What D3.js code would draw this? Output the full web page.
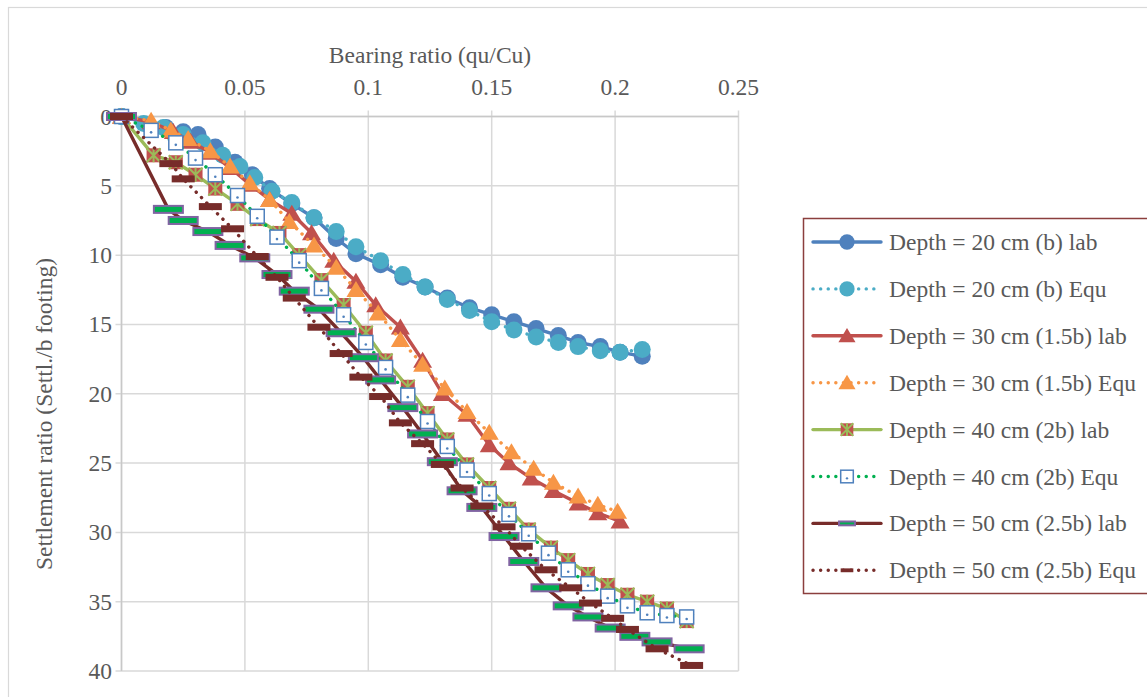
<!DOCTYPE html>
<html>
<head>
<meta charset="utf-8">
<script src="https://cdn.jsdelivr.net/npm/d3@7"></script>
<style>
  html, body { margin: 0; padding: 0; background: #fff; }
  svg { display: block; }
  text { font-family: "Liberation Serif", "Times New Roman", serif; fill: #595959; }
</style>
</head>
<body>
<svg id="chart" width="1147" height="697"></svg>
<script>
// Bearing ratio (qu/Cu) vs settlement ratio for footing depths, lab vs equation
const xTickValues = [0, 0.05, 0.1, 0.15, 0.2, 0.25];
const yTickValues = [0, 5, 10, 15, 20, 25, 30, 35, 40];

const depth20Lab = [[0,0],[0.018,0.8],[0.025,1.1],[0.031,1.3],[0.038,2.2],[0.046,3.3],[0.053,4.2],[0.060,5.2],[0.069,6.3],[0.078,7.3],[0.087,8.8],[0.095,9.9],[0.105,10.7],[0.114,11.6],[0.123,12.3],[0.132,13.1],[0.141,13.8],[0.150,14.3],[0.159,14.8],[0.168,15.3],[0.177,15.8],[0.185,16.3],[0.194,16.6],[0.202,17.0],[0.211,17.3]];
const depth20Equ = [[0,0],[0.009,0.5],[0.017,0.8],[0.025,1.3],[0.033,1.9],[0.041,2.8],[0.048,3.6],[0.054,4.4],[0.061,5.4],[0.069,6.2],[0.078,7.3],[0.087,8.3],[0.095,9.4],[0.105,10.4],[0.114,11.4],[0.123,12.3],[0.132,13.2],[0.141,14.0],[0.150,14.8],[0.159,15.4],[0.168,15.9],[0.177,16.3],[0.185,16.6],[0.194,16.9],[0.202,17.0],[0.211,16.8]];
const depth30Lab = [[0,0],[0.012,0.4],[0.021,1.1],[0.028,1.8],[0.036,2.6],[0.044,3.7],[0.052,4.9],[0.060,6.0],[0.069,7.0],[0.077,8.4],[0.086,10.4],[0.095,11.9],[0.103,13.6],[0.113,15.2],[0.122,17.6],[0.130,20.0],[0.140,21.5],[0.149,23.7],[0.157,25.0],[0.166,26.1],[0.175,27.0],[0.185,27.9],[0.193,28.6],[0.202,29.2]];
const depth30Equ = [[0,0],[0.012,0.3],[0.020,1.0],[0.027,1.6],[0.036,2.5],[0.044,3.6],[0.052,4.8],[0.060,6.0],[0.068,7.6],[0.078,9.3],[0.087,10.9],[0.095,12.5],[0.104,14.2],[0.113,16.1],[0.122,17.9],[0.131,19.6],[0.140,21.3],[0.149,22.8],[0.158,24.2],[0.167,25.4],[0.175,26.4],[0.185,27.4],[0.193,28.0],[0.201,28.5]];
const depth40Lab = [[0,0],[0.013,2.8],[0.022,3.3],[0.030,4.2],[0.038,5.2],[0.047,6.3],[0.055,7.4],[0.064,8.4],[0.072,10.0],[0.081,11.8],[0.090,13.6],[0.099,15.6],[0.107,17.6],[0.116,19.5],[0.124,21.4],[0.132,23.3],[0.140,25.1],[0.149,26.8],[0.157,28.3],[0.165,29.8],[0.174,31.1],[0.181,32.0],[0.189,33.0],[0.197,33.8],[0.205,34.5],[0.213,35.0],[0.221,35.5],[0.229,36.4]];
const depth40Equ = [[0,0],[0.012,1.0],[0.022,1.9],[0.030,3.0],[0.038,4.2],[0.047,5.7],[0.055,7.2],[0.063,8.7],[0.072,10.4],[0.081,12.4],[0.090,14.3],[0.099,16.3],[0.107,18.1],[0.116,20.1],[0.124,22.0],[0.132,23.8],[0.140,25.5],[0.149,27.2],[0.157,28.7],[0.165,30.1],[0.173,31.5],[0.181,32.7],[0.189,33.7],[0.197,34.6],[0.205,35.3],[0.213,35.8],[0.221,36.0],[0.229,36.1]];
const depth50Lab = [[0,0],[0.019,6.7],[0.025,7.5],[0.035,8.3],[0.044,9.3],[0.054,10.2],[0.063,11.4],[0.070,12.6],[0.080,13.9],[0.089,15.6],[0.098,17.4],[0.105,19.0],[0.114,21.0],[0.122,22.9],[0.130,24.9],[0.138,27.0],[0.146,28.2],[0.155,30.3],[0.163,32.1],[0.172,34.0],[0.181,35.3],[0.189,36.1],[0.198,36.9],[0.208,37.5],[0.217,37.9],[0.230,38.4]];
const depth50Equ = [[0,0],[0.020,3.4],[0.025,4.5],[0.036,6.5],[0.045,8.1],[0.055,10.1],[0.063,11.6],[0.070,13.1],[0.080,15.2],[0.089,17.1],[0.097,18.8],[0.105,20.2],[0.113,22.1],[0.122,23.6],[0.130,25.1],[0.138,26.8],[0.146,28.1],[0.155,29.6],[0.162,31.0],[0.172,32.7],[0.182,34.0],[0.190,35.1],[0.199,36.2],[0.205,37.0],[0.217,38.4],[0.231,39.6]];

const seriesNames = [
  "Depth = 20 cm (b) lab", "Depth = 20 cm (b) Equ",
  "Depth = 30 cm (1.5b) lab", "Depth = 30 cm (1.5b) Equ",
  "Depth = 40 cm (2b) lab", "Depth = 40 cm (2b) Equ",
  "Depth = 50 cm (2.5b) lab", "Depth = 50 cm (2.5b) Equ"
];

const FONT = 23.5;
const svg = d3.select("#chart");

// chart frame
svg.append("rect").attr("x", 8.5).attr("y", 7.5).attr("width", 1160).attr("height", 720)
  .attr("fill", "#fff").attr("stroke", "#D9D9D9").attr("stroke-width", 1.2);

const x = d3.scaleLinear().domain([0, 0.25]).range([121.5, 738.5]);
const y = d3.scaleLinear().domain([0, 40]).range([116.5, 671]);

// gridlines
const grid = svg.append("g");
grid.selectAll("line.v").data(xTickValues).join("line")
  .attr("x1", d => x(d)).attr("x2", d => x(d)).attr("y1", y(0) - 6).attr("y2", y(40))
  .attr("stroke", "#D9D9D9").attr("stroke-width", 1.5);
grid.selectAll("line.h").data(yTickValues).join("line")
  .attr("x1", x(0) - 6).attr("x2", x(0.25)).attr("y1", d => y(d)).attr("y2", d => y(d))
  .attr("stroke", "#D9D9D9").attr("stroke-width", 1.5);
// axis lines
svg.append("line").attr("x1", x(0)).attr("x2", x(0)).attr("y1", y(0) - 6).attr("y2", y(40))
  .attr("stroke", "#C8C8C8").attr("stroke-width", 1.5);
svg.append("line").attr("x1", x(0) - 6).attr("x2", x(0.25)).attr("y1", y(0)).attr("y2", y(0))
  .attr("stroke", "#C8C8C8").attr("stroke-width", 1.5);

// tick labels
svg.selectAll("text.xt").data(xTickValues).join("text")
  .attr("x", d => x(d)).attr("y", 95).attr("text-anchor", "middle")
  .style("font-size", FONT + "px").text(d => d3.format("")(d));
svg.selectAll("text.yt").data(yTickValues).join("text")
  .attr("x", 112).attr("y", d => y(d) + 8).attr("text-anchor", "end")
  .style("font-size", FONT + "px").text(d => d);

// axis titles
svg.append("text").attr("x", 430).attr("y", 63).attr("text-anchor", "middle")
  .style("font-size", FONT + "px").text("Bearing ratio (qu/Cu)");
svg.append("text").attr("transform", "translate(52,414) rotate(-90)").attr("text-anchor", "middle")
  .style("font-size", FONT + "px").text("Settlement ratio (Settl./b footing)");

// marker painters
function circleMarker(g, color, s = 1) {
  g.append("circle").attr("r", 8.5 * s).attr("fill", color);
}
function triangleMarker(g, color, s = 1) {
  const w = 9.5 * s, h = 16 * s;
  g.append("path").attr("d", `M0,${-h * 0.55}L${w},${h * 0.45}L${-w},${h * 0.45}Z`).attr("fill", color);
}
function starSquareMarker(g, s = 1) {
  const a = 7 * s;
  g.append("rect").attr("x", -a).attr("y", -a).attr("width", 2 * a).attr("height", 2 * a)
    .attr("fill", "#C0504D");
  const p = `M${-a},${-a}L${a},${a}M${a},${-a}L${-a},${a}M0,${-a}L0,${a}`;
  g.append("path").attr("d", p).attr("stroke", "#9BBB59").attr("stroke-width", 2).attr("fill", "none");
}
function openSquareMarker(g, s = 1) {
  const a = 7 * s;
  g.append("rect").attr("x", -a).attr("y", -a).attr("width", 2 * a).attr("height", 2 * a)
    .attr("fill", "#fff").attr("stroke", "#4F81BD").attr("stroke-width", 1.5);
  g.append("circle").attr("cy", 2 * s).attr("r", 1.3 * s).attr("fill", "#4F81BD");
}
function labDashMarker(g, s = 1) {
  const w = 29 * s, h = 7 * s;
  g.append("rect").attr("x", -w / 2).attr("y", -h / 2).attr("width", w).attr("height", h)
    .attr("fill", "#00B050").attr("stroke", "#8064A2").attr("stroke-width", 2);
}
function equDashMarker(g, s = 1) {
  const w = 23 * s, h = 7 * s;
  g.append("rect").attr("x", -w / 2).attr("y", -h / 2).attr("width", w).attr("height", h)
    .attr("fill", "#772C2A");
}

const series = [
  { data: depth20Lab, color: "#4F81BD", dotted: false, marker: (g, s) => circleMarker(g, "#4F81BD", s) },
  { data: depth20Equ, color: "#4BACC6", dotted: true,  marker: (g, s) => circleMarker(g, "#4BACC6", s) },
  { data: depth30Lab, color: "#C0504D", dotted: false, marker: (g, s) => triangleMarker(g, "#C0504D", s) },
  { data: depth30Equ, color: "#F79646", dotted: true,  marker: (g, s) => triangleMarker(g, "#F79646", s) },
  { data: depth40Lab, color: "#9BBB59", dotted: false, marker: (g, s) => starSquareMarker(g, s) },
  { data: depth40Equ, color: "#00B050", dotted: true,  marker: (g, s) => openSquareMarker(g, s) },
  { data: depth50Lab, color: "#772C2A", dotted: false, marker: (g, s) => labDashMarker(g, s) },
  { data: depth50Equ, color: "#772C2A", dotted: true,  marker: (g, s) => equDashMarker(g, s) }
];

const line = d3.line().x(d => x(d[0])).y(d => y(d[1]));

function styleLine(sel, s) {
  sel.attr("fill", "none").attr("stroke", s.color).attr("stroke-width", 3.4)
    .attr("stroke-linejoin", "round").attr("stroke-linecap", "round");
  if (s.dotted) sel.attr("stroke-dasharray", "0.1 7.5");
}

const plot = svg.append("g");
series.forEach(s => {
  const g = plot.append("g");
  styleLine(g.append("path").attr("d", line(s.data)), s);
  s.data.forEach(d => {
    const m = g.append("g").attr("transform", `translate(${x(d[0])},${y(d[1])})`);
    s.marker(m, 1);
  });
});

// legend
const legend = svg.append("g");
legend.append("rect").attr("x", 803.5).attr("y", 218.5).attr("width", 360).attr("height", 375)
  .attr("fill", "#fff").attr("stroke", "#8B3F3D").attr("stroke-width", 1.5);
series.forEach((s, i) => {
  const cy = 242 + i * 46.9;
  const g = legend.append("g");
  styleLine(g.append("line").attr("x1", 813).attr("x2", 881).attr("y1", cy).attr("y2", cy), s);
  const m = g.append("g").attr("transform", `translate(847,${cy})`);
  s.marker(m, i >= 6 ? 0.55 : 0.9);
  g.append("text").attr("x", 889).attr("y", cy + 8).style("font-size", FONT + "px").text(seriesNames[i]);
});
</script>
</body>
</html>
